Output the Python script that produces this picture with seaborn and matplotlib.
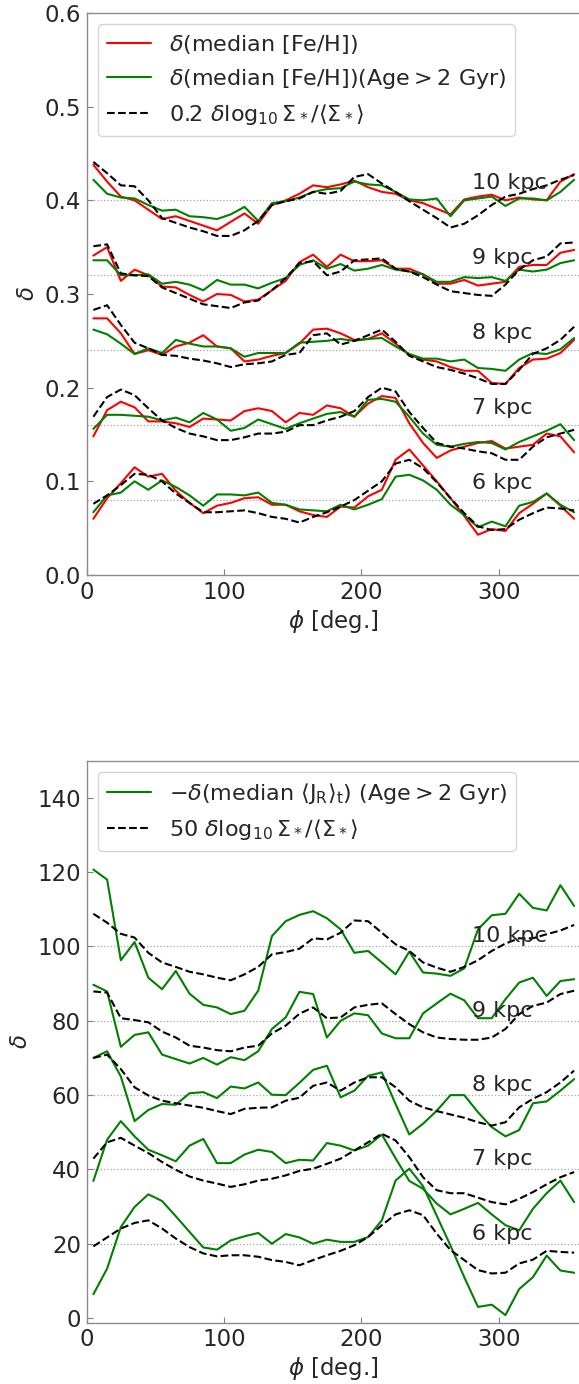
import matplotlib
matplotlib.use("Agg")
import matplotlib.pyplot as plt
import seaborn as sns

# azimuth bins (deg)
phi = [5, 15, 25, 35, 45, 55, 65, 75, 85, 95, 105, 115, 125, 135, 145, 155, 165, 175,
       185, 195, 205, 215, 225, 235, 245, 255, 265, 275, 285, 295, 305, 315, 325, 335, 345, 355]

radii = ["6 kpc", "7 kpc", "8 kpc", "9 kpc", "10 kpc"]
top_offsets = [0.08, 0.16, 0.24, 0.32, 0.40]
bot_offsets = [20, 40, 60, 80, 100]

# top panel: delta(median [Fe/H]), all stars
feh_all = {
    "6 kpc": [0.060, 0.082, 0.098, 0.115, 0.105, 0.108, 0.090, 0.077, 0.066, 0.074, 0.077, 0.082,
              0.083, 0.075, 0.075, 0.068, 0.064, 0.062, 0.073, 0.072, 0.084, 0.091, 0.123, 0.134,
              0.117, 0.100, 0.082, 0.063, 0.043, 0.049, 0.047, 0.066, 0.076, 0.087, 0.074, 0.060],
    "7 kpc": [0.148, 0.176, 0.185, 0.179, 0.164, 0.164, 0.162, 0.158, 0.167, 0.166, 0.165, 0.175,
              0.178, 0.175, 0.163, 0.173, 0.171, 0.181, 0.178, 0.169, 0.183, 0.191, 0.189, 0.162,
              0.141, 0.125, 0.133, 0.137, 0.141, 0.143, 0.135, 0.137, 0.139, 0.151, 0.148, 0.131],
    "8 kpc": [0.274, 0.274, 0.258, 0.236, 0.240, 0.235, 0.244, 0.248, 0.256, 0.244, 0.242, 0.228,
              0.230, 0.234, 0.237, 0.247, 0.262, 0.263, 0.258, 0.251, 0.252, 0.258, 0.247, 0.235,
              0.230, 0.228, 0.222, 0.218, 0.218, 0.205, 0.204, 0.221, 0.230, 0.231, 0.237, 0.251],
    "9 kpc": [0.341, 0.350, 0.314, 0.326, 0.320, 0.308, 0.307, 0.299, 0.292, 0.300, 0.299, 0.292,
              0.294, 0.304, 0.314, 0.334, 0.342, 0.329, 0.342, 0.335, 0.335, 0.336, 0.327, 0.327,
              0.321, 0.311, 0.311, 0.315, 0.309, 0.311, 0.313, 0.329, 0.331, 0.331, 0.344, 0.347],
    "10 kpc": [0.438, 0.420, 0.404, 0.400, 0.390, 0.380, 0.383, 0.378, 0.373, 0.368, 0.377, 0.386,
               0.375, 0.395, 0.400, 0.407, 0.416, 0.414, 0.417, 0.421, 0.414, 0.409, 0.407, 0.400,
               0.397, 0.391, 0.385, 0.401, 0.404, 0.406, 0.400, 0.403, 0.401, 0.400, 0.420, 0.428],
}

# top panel: delta(median [Fe/H]), Age > 2 Gyr
feh_old = {
    "6 kpc": [0.067, 0.085, 0.088, 0.100, 0.091, 0.101, 0.094, 0.085, 0.074, 0.086, 0.086, 0.085,
              0.088, 0.077, 0.075, 0.070, 0.069, 0.068, 0.075, 0.070, 0.075, 0.081, 0.105, 0.107,
              0.101, 0.091, 0.075, 0.064, 0.051, 0.057, 0.052, 0.074, 0.078, 0.087, 0.075, 0.067],
    "7 kpc": [0.156, 0.171, 0.171, 0.170, 0.169, 0.165, 0.168, 0.163, 0.173, 0.166, 0.154, 0.157,
              0.166, 0.161, 0.156, 0.162, 0.167, 0.172, 0.174, 0.169, 0.187, 0.188, 0.185, 0.169,
              0.151, 0.139, 0.137, 0.140, 0.142, 0.141, 0.134, 0.142, 0.148, 0.154, 0.161, 0.144],
    "8 kpc": [0.262, 0.257, 0.247, 0.236, 0.242, 0.237, 0.251, 0.247, 0.244, 0.244, 0.242, 0.233,
              0.237, 0.237, 0.237, 0.248, 0.249, 0.250, 0.252, 0.250, 0.252, 0.253, 0.244, 0.236,
              0.231, 0.231, 0.228, 0.230, 0.221, 0.220, 0.218, 0.230, 0.237, 0.236, 0.241, 0.253],
    "9 kpc": [0.336, 0.336, 0.320, 0.320, 0.321, 0.311, 0.313, 0.310, 0.304, 0.315, 0.310, 0.310,
              0.306, 0.312, 0.317, 0.331, 0.336, 0.327, 0.332, 0.325, 0.327, 0.331, 0.326, 0.324,
              0.321, 0.313, 0.313, 0.318, 0.317, 0.318, 0.314, 0.326, 0.324, 0.326, 0.333, 0.336],
    "10 kpc": [0.422, 0.407, 0.403, 0.402, 0.395, 0.389, 0.390, 0.383, 0.382, 0.380, 0.385, 0.393,
               0.378, 0.397, 0.399, 0.403, 0.409, 0.412, 0.413, 0.420, 0.417, 0.416, 0.409, 0.401,
               0.400, 0.402, 0.383, 0.400, 0.402, 0.404, 0.394, 0.402, 0.402, 0.400, 0.409, 0.422],
}

# top panel: 0.2 dlog10 Sigma
sig_top = {
    "6 kpc": [0.076, 0.085, 0.096, 0.108, 0.107, 0.100, 0.087, 0.077, 0.067, 0.067, 0.068, 0.069,
              0.066, 0.062, 0.060, 0.056, 0.062, 0.067, 0.073, 0.080, 0.090, 0.100, 0.119, 0.123,
              0.114, 0.099, 0.082, 0.066, 0.052, 0.048, 0.049, 0.059, 0.066, 0.072, 0.071, 0.069],
    "7 kpc": [0.169, 0.190, 0.198, 0.192, 0.178, 0.165, 0.157, 0.151, 0.148, 0.144, 0.144, 0.147,
              0.151, 0.151, 0.153, 0.160, 0.160, 0.165, 0.169, 0.175, 0.190, 0.200, 0.196, 0.174,
              0.157, 0.141, 0.137, 0.135, 0.132, 0.130, 0.123, 0.123, 0.137, 0.147, 0.151, 0.155],
    "8 kpc": [0.283, 0.288, 0.267, 0.248, 0.242, 0.235, 0.234, 0.231, 0.229, 0.226, 0.222, 0.225,
              0.226, 0.228, 0.235, 0.237, 0.256, 0.258, 0.246, 0.250, 0.256, 0.262, 0.249, 0.234,
              0.228, 0.222, 0.219, 0.215, 0.210, 0.204, 0.204, 0.219, 0.236, 0.242, 0.251, 0.265],
    "9 kpc": [0.351, 0.353, 0.322, 0.320, 0.319, 0.307, 0.301, 0.295, 0.289, 0.287, 0.285, 0.291,
              0.293, 0.304, 0.317, 0.333, 0.335, 0.320, 0.324, 0.336, 0.337, 0.338, 0.327, 0.324,
              0.318, 0.310, 0.303, 0.301, 0.299, 0.298, 0.310, 0.326, 0.336, 0.340, 0.354, 0.355],
    "10 kpc": [0.441, 0.429, 0.416, 0.415, 0.400, 0.381, 0.376, 0.371, 0.367, 0.362, 0.362, 0.368,
               0.378, 0.395, 0.399, 0.402, 0.409, 0.407, 0.410, 0.425, 0.428, 0.418, 0.409, 0.399,
               0.390, 0.381, 0.371, 0.375, 0.384, 0.395, 0.404, 0.407, 0.412, 0.416, 0.422, 0.427],
}

# bottom panel: -delta(median <J_R>_t), Age > 2 Gyr
jr_old = {
    "6 kpc": [6.4, 13.3, 24.5, 29.9, 33.3, 31.5, 27.4, 23.2, 19.0, 18.4, 20.9, 22.0,
              22.9, 20.0, 22.6, 21.7, 20.0, 21.1, 20.5, 20.5, 21.8, 26.3, 37.0, 40.2,
              35.5, 27.5, 19.5, 11.0, 3.0, 3.6, 0.8, 7.8, 11.0, 16.8, 12.8, 12.2],
    "7 kpc": [36.9, 48.0, 53.0, 48.9, 45.3, 43.8, 42.2, 46.4, 48.2, 41.7, 41.7, 44.0,
              45.3, 44.7, 41.7, 42.6, 42.4, 47.1, 46.4, 45.1, 46.4, 49.4, 43.0, 36.9,
              34.8, 30.8, 27.9, 29.4, 31.0, 27.9, 25.0, 23.6, 29.4, 33.6, 37.0, 31.2],
    "8 kpc": [70.0, 71.8, 65.0, 53.0, 56.0, 57.6, 57.4, 60.5, 60.8, 59.2, 62.3, 61.8,
              63.4, 60.1, 60.0, 63.3, 66.8, 67.9, 59.4, 61.2, 65.2, 66.1, 57.6, 49.4,
              52.3, 55.8, 60.0, 60.0, 55.4, 51.4, 48.9, 50.6, 57.8, 58.3, 61.2, 64.3],
    "9 kpc": [89.7, 87.9, 73.0, 76.2, 76.9, 70.9, 69.7, 68.5, 70.0, 68.2, 70.2, 69.4,
              71.8, 77.8, 80.9, 87.8, 87.2, 75.5, 80.0, 82.0, 81.5, 76.6, 75.3, 75.3,
              82.0, 84.7, 87.3, 85.5, 80.7, 80.7, 85.8, 90.3, 91.6, 86.7, 90.7, 91.2],
    "10 kpc": [120.7, 118.0, 96.3, 101.2, 91.6, 88.5, 93.4, 87.3, 84.3, 83.6, 81.8, 82.7,
               88.1, 102.8, 106.8, 108.5, 109.5, 107.6, 104.6, 98.3, 98.8, 95.7, 92.5, 98.6,
               93.0, 92.7, 92.1, 94.1, 104.6, 108.4, 108.8, 114.2, 110.4, 109.7, 116.5, 110.9],
}

# bottom panel: 50 dlog10 Sigma
sig_bot = {
    "6 kpc": [19.3, 21.7, 24.1, 25.6, 26.3, 24.1, 21.4, 19.1, 17.4, 16.6, 16.9, 16.9,
              16.5, 15.6, 15.1, 14.2, 15.6, 16.9, 18.1, 19.6, 21.8, 25.0, 27.9, 29.0,
              27.7, 22.7, 18.3, 15.6, 12.9, 12.0, 12.2, 14.7, 15.7, 18.1, 17.8, 17.6],
    "7 kpc": [42.9, 47.3, 48.5, 46.4, 44.4, 42.0, 39.9, 38.1, 37.0, 36.2, 35.3, 36.0,
              37.0, 37.5, 38.4, 39.6, 40.2, 41.5, 42.9, 45.1, 47.3, 49.6, 47.8, 43.3,
              37.9, 34.4, 33.6, 33.6, 32.4, 31.2, 30.6, 32.1, 33.9, 36.0, 37.9, 39.3],
    "8 kpc": [70.0, 70.9, 67.0, 62.1, 59.9, 58.5, 57.8, 57.2, 56.6, 55.7, 54.9, 56.3,
              56.6, 56.7, 58.5, 59.3, 62.5, 63.4, 61.2, 63.4, 64.8, 64.8, 62.1, 58.5,
              56.7, 55.7, 54.8, 53.9, 52.7, 51.8, 52.7, 56.7, 59.0, 60.8, 63.4, 66.6],
    "9 kpc": [87.9, 87.6, 80.7, 80.2, 79.6, 77.1, 75.5, 73.3, 72.8, 72.1, 71.8, 72.8,
              73.3, 76.6, 78.7, 81.9, 83.6, 80.7, 80.9, 83.6, 84.3, 84.7, 81.8, 79.1,
              76.9, 75.5, 75.1, 74.9, 74.9, 75.5, 77.8, 81.8, 84.0, 84.9, 87.2, 88.1],
    "10 kpc": [108.8, 106.4, 103.4, 102.4, 98.3, 95.7, 94.5, 93.2, 92.5, 91.6, 90.9, 92.5,
               94.5, 97.9, 98.5, 99.4, 102.2, 101.9, 103.7, 107.0, 106.8, 103.7, 100.6, 98.8,
               95.7, 94.3, 93.2, 94.5, 96.3, 98.8, 100.8, 102.2, 102.2, 103.3, 104.3, 105.8],
}

sns.set_style("white")
plt.rcParams["font.family"] = ["DejaVu Sans"]
plt.rcParams["mathtext.fontset"] = "dejavusans"

W, H = 579, 1384
fig = plt.figure(figsize=(W / 100, H / 100), dpi=100)
ax1 = fig.add_axes([86.5 / W, 1 - 575 / H, (581 - 86.5) / W, 562 / H])
ax2 = fig.add_axes([86.5 / W, 1 - 1322.7 / H, (581 - 86.5) / W, 562 / H])

fs = 16
lw = 1.5

for i, r in enumerate(radii):
    first = i == 0
    ax1.axhline(top_offsets[i], color="0.65", ls=":", lw=0.9, zorder=0)
    sns.lineplot(x=phi, y=feh_all[r], ax=ax1, color="red", lw=lw, errorbar=None,
                 label=r"$\delta$(median [Fe/H])" if first else None)
    sns.lineplot(x=phi, y=feh_old[r], ax=ax1, color="green", lw=lw, errorbar=None,
                 label=r"$\delta$(median [Fe/H])(Age$>2$ Gyr)" if first else None)
    sns.lineplot(x=phi, y=sig_top[r], ax=ax1, color="black", lw=lw, ls="--", errorbar=None,
                 label=r"0.2 $\delta\log_{10}\Sigma_*/\langle\Sigma_*\rangle$" if first else None)
    ax1.text(281, top_offsets[i] + 0.018, r, fontsize=fs, va="center", ha="left")

    ax2.axhline(bot_offsets[i], color="0.65", ls=":", lw=0.9, zorder=0)
    sns.lineplot(x=phi, y=jr_old[r], ax=ax2, color="green", lw=lw, errorbar=None,
                 label=r"$-\delta$(median $\langle\mathrm{J}_\mathrm{R}\rangle_\mathrm{t}$) (Age$>2$ Gyr)" if first else None)
    sns.lineplot(x=phi, y=sig_bot[r], ax=ax2, color="black", lw=lw, ls="--", errorbar=None,
                 label=r"50 $\delta\log_{10}\Sigma_*/\langle\Sigma_*\rangle$" if first else None)
    ax2.text(281, bot_offsets[i] + 2.7, r, fontsize=fs, va="center", ha="left")

ax1.set_xlim(0, 360)
ax1.set_ylim(0, 0.6)
ax2.set_xlim(0, 360)
ax2.set_ylim(-1.25, 150)
ax1.set_yticks([0.0, 0.1, 0.2, 0.3, 0.4, 0.5, 0.6])
ax2.set_yticks([0, 20, 40, 60, 80, 100, 120, 140])

for ax in (ax1, ax2):
    ax.set_xticks([0, 100, 200, 300])
    ax.tick_params(axis="both", which="both", direction="in", length=4, width=0.8,
                   color="0.5", labelsize=fs + 0.5, left=True, bottom=True, pad=4)
    for s in ax.spines.values():
        s.set_color("0.55")
        s.set_linewidth(1.0)
    ax.set_xlabel(r"$\phi$ [deg.]", fontsize=fs + 0.5, labelpad=3)
    ax.set_ylabel(r"$\delta$", fontsize=fs + 0.5)
    ax.legend(loc="upper left", fontsize=fs)

fig.savefig("out.png", dpi=100)
